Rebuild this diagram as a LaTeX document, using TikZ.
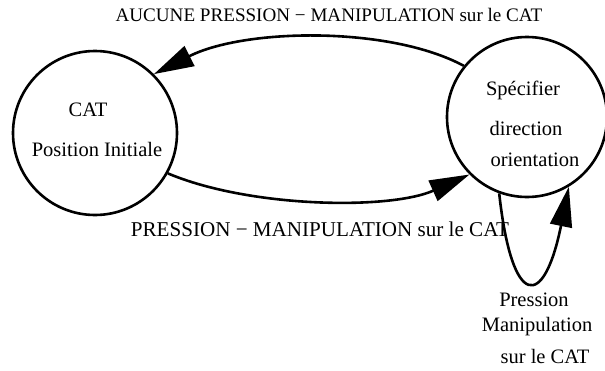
\documentclass[tikz,border=0pt]{standalone}
\usepackage{fontspec}
\setmainfont{Liberation Serif}
\usetikzlibrary{arrows.meta}
\begin{document}
\begin{tikzpicture}[x=1pt,y=-1pt,
  state/.style={circle,draw,line width=2.6pt,inner sep=0pt},
  lbl/.style={font=\fontsize{20.5}{24}\selectfont,inner sep=0pt},
  edge/.style={line width=2.6pt,-{Triangle[length=40pt,width=22pt]}}]
\path[use as bounding box] (0,0) rectangle (605,370);
\node[state,minimum size=164pt] (L) at (95,133) {};
\node[state,minimum size=160pt] (R) at (527,117) {};
\node[lbl] (l1) at (88,110) {CAT};
\node[lbl] (l2) at (97,149) {Position Initiale};
\node[lbl] (r1) at (523,90) {Spécifier};
\node[lbl] (r2) at (526,128) {direction};
\node[lbl] (r3) at (535,160) {orientation};
\node[lbl,font=\fontsize{19.1}{23}\selectfont] (t1) at (329,15) {AUCUNE PRESSION − MANIPULATION sur le CAT};
\node[lbl,font=\fontsize{21.1}{25}\selectfont] (t2) at (320,229) {PRESSION − MANIPULATION sur le CAT};
\node[lbl] (t3) at (534,300) {Pression};
\node[lbl] (t4) at (537,327) {Manipulation};
\node[lbl] (t5) at (545,356) {sur le CAT};
\draw[edge] (R.141) .. controls (390,26) and (245,28) .. (L.45);
\draw[edge] (L.-29) .. controls (250,208) and (390,210) .. (R.-135);
\draw[edge] (R.-110) .. controls (512,310) and (544,310) .. (R.-59);
\end{tikzpicture}
\end{document}
